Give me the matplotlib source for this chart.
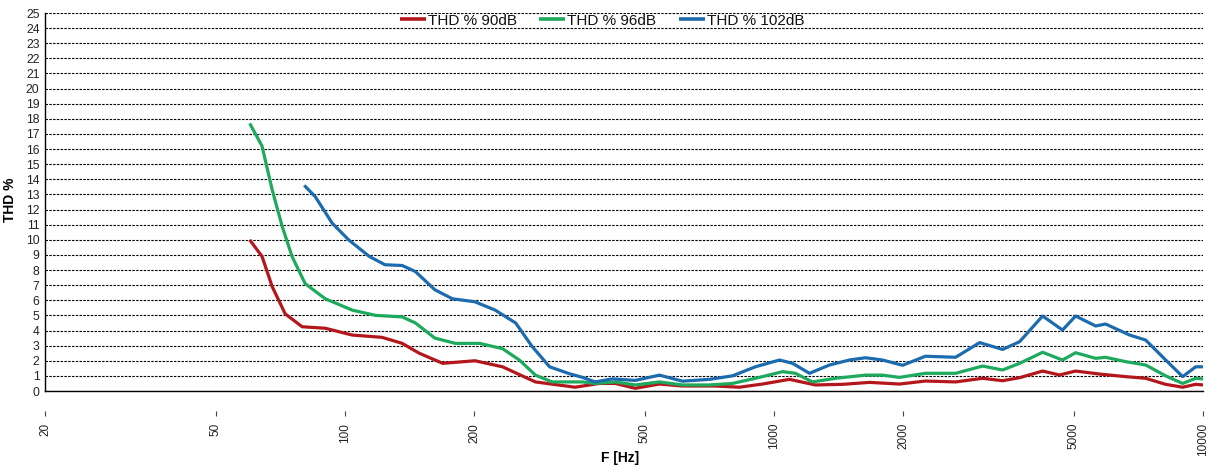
import matplotlib
matplotlib.use("Agg")
import matplotlib.pyplot as plt
from matplotlib.ticker import FixedLocator, NullLocator, FixedFormatter

plt.rcParams['font.family'] = ['Liberation Sans', 'DejaVu Sans']

# ---- data ----
f_90 = [60, 64.1, 67.7, 72.6, 79.5, 90, 104, 122, 136, 149, 169, 201, 233, 278, 344, 392,
        427, 475, 541, 612, 730, 831, 940, 1087, 1249, 1445, 1670, 1962, 2255, 2651, 3064,
        3411, 3737, 4229, 4630, 5048, 5742, 6603, 7352, 8184, 8966, 9616, 10000]
thd_90 = [10.0, 8.9, 6.9, 5.1, 4.25, 4.15, 3.7, 3.55, 3.15, 2.5, 1.83, 2.0, 1.6, 0.6, 0.25, 0.5,
          0.5, 0.18, 0.46, 0.33, 0.33, 0.25, 0.46, 0.77, 0.4, 0.44, 0.57, 0.46, 0.66, 0.6, 0.84,
          0.68, 0.88, 1.32, 1.06, 1.32, 1.12, 0.95, 0.84, 0.44, 0.25, 0.44, 0.4]

f_96 = [60, 64.1, 67.7, 71.4, 75.3, 80.8, 90, 104, 118, 136, 146, 162, 181, 206, 233, 255,
        278, 304, 358, 383, 427, 475, 541, 612, 707, 800, 925, 1047, 1122, 1229, 1392, 1634,
        1791, 1962, 2255, 2651, 3064, 3411, 3737, 4229, 4705, 5048, 5620, 5929, 6603, 7352,
        8184, 8966, 9616, 10000]
thd_96 = [17.7, 16.2, 13.3, 10.9, 8.9, 7.1, 6.1, 5.35, 5.0, 4.9, 4.5, 3.5, 3.15, 3.15, 2.8, 2.05,
          1.05, 0.6, 0.6, 0.5, 0.6, 0.4, 0.6, 0.4, 0.4, 0.5, 0.9, 1.28, 1.17, 0.6, 0.84, 1.05,
          1.05, 0.9, 1.17, 1.17, 1.65, 1.39, 1.83, 2.56, 2.05, 2.53, 2.16, 2.23, 1.94, 1.72,
          1.0, 0.5, 0.84, 0.8]

f_102 = [80.4, 85.3, 93.4, 102, 114, 124, 136, 146, 162, 178, 201, 224, 250, 273, 300, 333,
         358, 383, 420, 475, 541, 612, 707, 800, 905, 1030, 1105, 1210, 1347, 1500, 1634, 1791,
         1994, 2255, 2651, 3016, 3411, 3737, 4229, 4705, 5048, 5620, 5929, 6746, 7352, 8184,
         8966, 9616, 10000]
thd_102 = [13.6, 12.85, 11.1, 10.0, 8.9, 8.35, 8.3, 7.9, 6.7, 6.1, 5.9, 5.35, 4.5, 2.95, 1.6, 1.15,
           0.9, 0.6, 0.8, 0.7, 1.05, 0.65, 0.77, 1.0, 1.6, 2.05, 1.83, 1.17, 1.72, 2.05, 2.2, 2.05,
           1.7, 2.3, 2.23, 3.2, 2.75, 3.26, 4.96, 4.03, 4.96, 4.3, 4.43, 3.7, 3.37, 2.05,
           0.95, 1.6, 1.6]

series_labels = ['THD % 90dB', 'THD % 96dB', 'THD % 102dB']
series_colors = ['#B3171C', '#1DAA5C', '#1C6BAE']

x_ticks = [20, 50, 100, 200, 500, 1000, 2000, 5000, 10000]
x_tick_labels = ['20', '50', '100', '200', '500', '1000', '2000', '5000', '10000']
y_ticks = list(range(0, 26))

# ---- figure ----
W, H = 1210, 470
fig = plt.figure(figsize=(W / 100, H / 100), dpi=100)
left, right, top, bottom = 45, 1203, 13, 391
ax = fig.add_axes([left / W, 1 - bottom / H, (right - left) / W, (bottom - top) / H])

for fx, fy, lab, col in zip([f_90, f_96, f_102], [thd_90, thd_96, thd_102],
                            series_labels, series_colors):
    ax.plot(fx, fy, color=col, lw=2.3, label=lab, solid_joinstyle='round',
            solid_capstyle='butt', zorder=3)

ax.set_xscale('log')
ax.set_xlim(20, 10000)
ax.set_ylim(0, 25)
ax.set_yticks(y_ticks)
ax.set_yticklabels([str(v) for v in y_ticks])
ax.tick_params(axis='y', length=0, pad=4, labelsize=8.7, labelcolor='#222222')
ax.xaxis.set_major_locator(NullLocator())
ax.xaxis.set_minor_locator(NullLocator())

ax.yaxis.grid(True, color='black', linestyle=(0, (2.2, 1.2)), linewidth=0.8)
ax.xaxis.grid(False)
ax.set_axisbelow(True)

ax.spines['top'].set_visible(False)
ax.spines['right'].set_visible(False)
ax.spines['left'].set_linewidth(1.0)
ax.spines['bottom'].set_linewidth(1.0)

# detached tick marks + rotated labels below the axis
sec = ax.secondary_xaxis(-20 / (bottom - top))
sec.spines['bottom'].set_visible(False)
sec.xaxis.set_major_locator(FixedLocator(x_ticks))
sec.xaxis.set_major_formatter(FixedFormatter(x_tick_labels))
sec.xaxis.set_minor_locator(NullLocator())
sec.tick_params(axis='x', direction='out', length=3.5, width=0.8, color='#444444',
                pad=5, labelsize=8.5, labelcolor='#222222', labelrotation=90)

leg = ax.legend(loc='center', bbox_to_anchor=((602 - left) / (right - left),
                                              (bottom - 20.7) / (bottom - top)),
                ncol=3, frameon=False, fontsize=11, handlelength=1.7,
                handletextpad=0.15, columnspacing=1.45, borderaxespad=0, borderpad=0)
for t in leg.get_texts():
    t.set_color('#111111')
for h in leg.get_lines():
    h.set_linewidth(2.6)

fig.text(620 / W, 1 - 458 / H, 'F [Hz]', ha='center', va='center',
         fontsize=10, fontweight='bold')
fig.text(10 / W, 1 - 200 / H, 'THD %', ha='center', va='center', rotation=90,
         fontsize=10, fontweight='bold')

fig.savefig('out.png', dpi=100, facecolor='white')
